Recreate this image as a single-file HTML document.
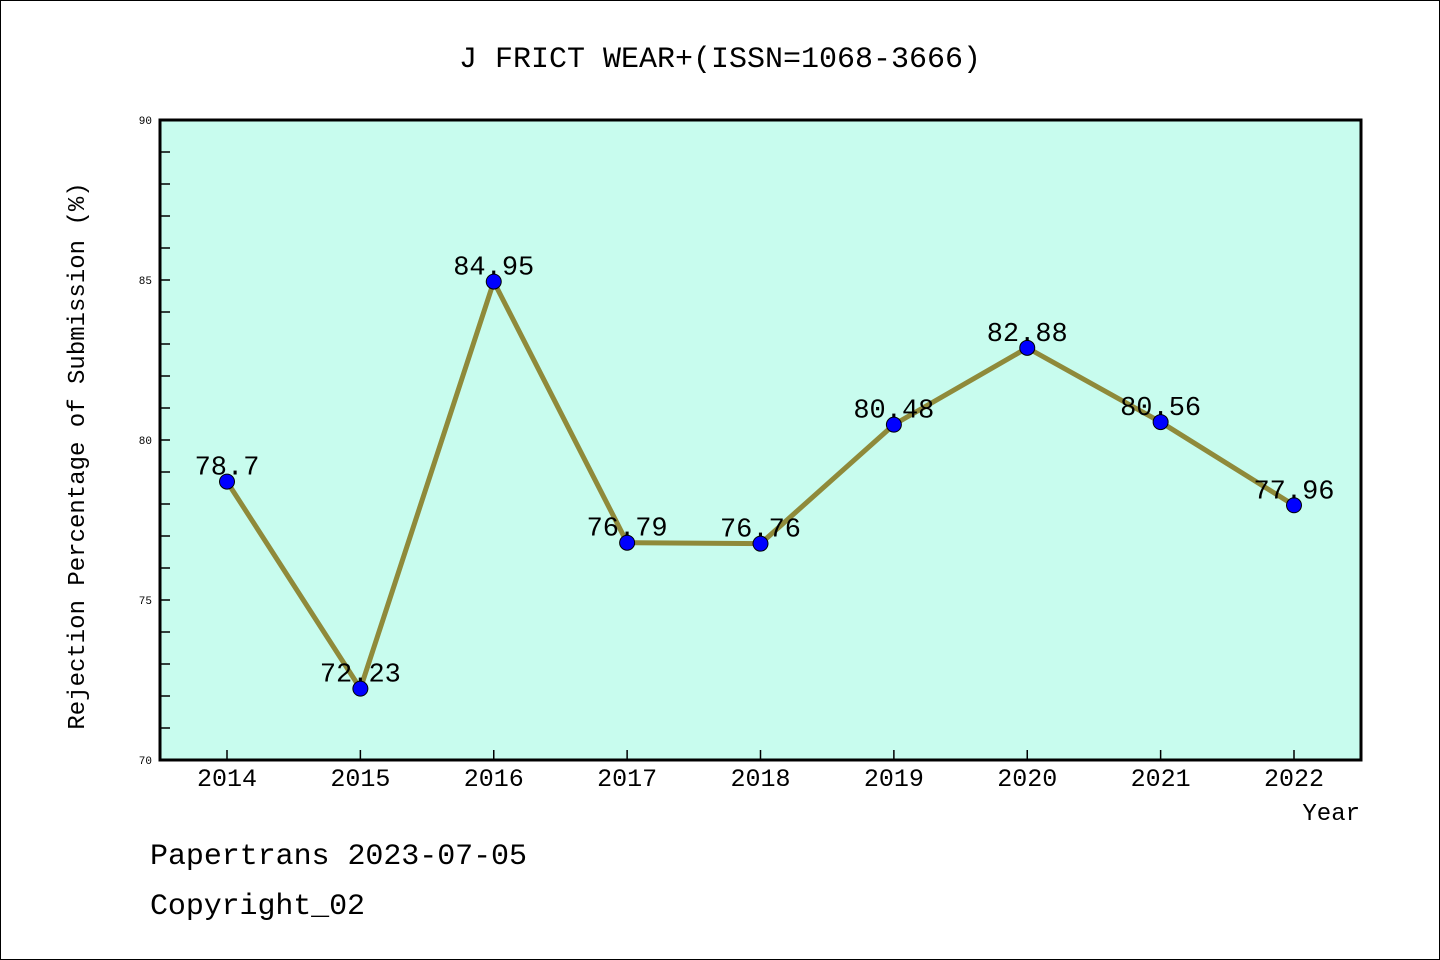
<!DOCTYPE html>
<html><head><meta charset="utf-8"><style>
body{margin:0;background:#fff}
svg{display:block}
text{font-family:"Liberation Mono","DejaVu Sans Mono",monospace;fill:#000}
</style></head><body>
<svg id="chart" width="1440" height="960" xmlns="http://www.w3.org/2000/svg">
<rect x="0.5" y="0.5" width="1439" height="959" fill="#fff" stroke="#000"/>
<text x="720" y="67" font-size="30" text-anchor="middle">J FRICT WEAR+(ISSN=1068-3666)</text>
<rect x="160" y="120" width="1201" height="640" fill="#c8fcee"/>
<g id="ticks"></g>
<g id="series"></g>
<rect x="160" y="120" width="1201" height="640" fill="none" stroke="#000" stroke-width="3"/>
<text x="84" y="456" font-size="24" text-anchor="middle" transform="rotate(-90 84 456)">Rejection Percentage of Submission (%)</text>
<text x="1360" y="820" font-size="24" text-anchor="end">Year</text>
<text x="150" y="864" font-size="30" textLength="377">Papertrans 2023-07-05</text>
<text x="150" y="914" font-size="30" textLength="215">Copyright_02</text>
</svg>
<script>
const years=[2014,2015,2016,2017,2018,2019,2020,2021,2022];
const values=[78.7,72.23,84.95,76.79,76.76,80.48,82.88,80.56,77.96];
const yTicks=[70,75,80,85,90];
const NS="http://www.w3.org/2000/svg";
const x0=227,x1=1294,yMin=70,yMax=90,py0=760,py1=120;
const xs=i=>x0+(x1-x0)*i/(years.length-1);
const ys=v=>py0-(v-yMin)/(yMax-yMin)*(py0-py1);
function mk(tag,attrs,parent){const e=document.createElementNS(NS,tag);for(const k in attrs)e.setAttribute(k,attrs[k]);parent.appendChild(e);return e;}
const tk=document.getElementById('ticks'),sr=document.getElementById('series');
for(let v=yMin;v<=yMax;v++){
 const t=mk('line',{x1:160,x2:170,y1:ys(v),y2:ys(v),stroke:'#000','stroke-width':1.5},tk);
 
 
}
yTicks.forEach(v=>{
 const t=mk('text',{x:152,y:ys(v)+4,'font-size':11,'text-anchor':'end'},tk);t.textContent=v;
 
 
});
years.forEach((y,i)=>{
 const t=mk('line',{x1:xs(i),x2:xs(i),y1:760,y2:750,stroke:'#000','stroke-width':1.5},tk);
 
 
 const l=mk('text',{x:xs(i),y:786,'font-size':25,'text-anchor':'middle'},tk);l.textContent=y;
 
 
});
const pts=values.map((v,i)=>xs(i)+','+ys(v)).join(' ');
const pl=mk('polyline',{points:pts,fill:'none',stroke:'#8f8a3a','stroke-width':5},sr);


values.forEach((v,i)=>{
 const c=mk('circle',{cx:xs(i),cy:ys(v),r:7.5,fill:'#0000ff',stroke:'#000','stroke-width':1},sr);
 
 
 const t=mk('text',{x:xs(i),y:ys(v)-7,'font-size':27,'text-anchor':'middle'},sr);t.textContent=v;
 
 
});
</script>
</body></html>
